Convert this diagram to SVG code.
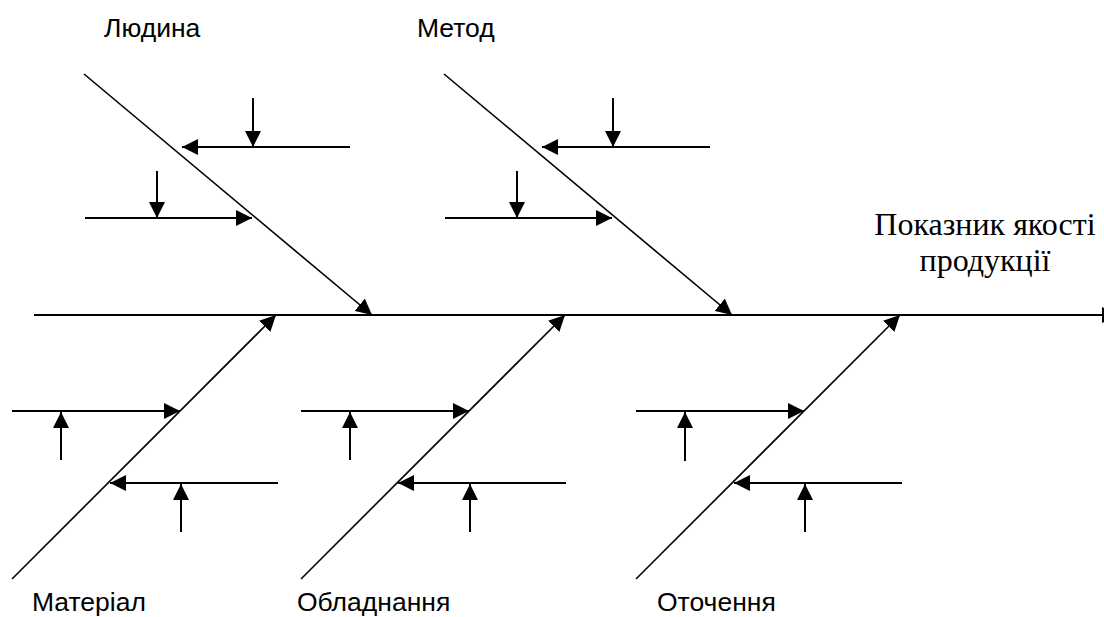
<svg xmlns="http://www.w3.org/2000/svg" width="1104" height="617" viewBox="0 0 1104 617">
  <style>
    .ln { stroke: #000; stroke-width: 2; fill: none; }
    .dg { stroke: #000; stroke-width: 1.6; fill: none; }
    .lbl { font-family: "Liberation Sans", Arial, sans-serif; font-size: 26.5px; fill: #000; }
    .ttl { font-family: "Liberation Serif", "Times New Roman", serif; font-size: 32px; fill: #000; text-anchor: middle; }
  </style>
  <defs>
    <marker id="ah" viewBox="0 0 16 16" refX="16" refY="8" markerWidth="16" markerHeight="16" markerUnits="userSpaceOnUse" orient="auto">
      <path d="M0,0 L16,8 L0,16 z" fill="#000"/>
    </marker>
  </defs>
  <rect width="1104" height="617" fill="#fff"/>

  <g id="connectors">
    <!-- spine -->
    <line class="ln" x1="34" y1="315" x2="1118" y2="315" marker-end="url(#ah)"/>
    <!-- top diagonals -->
    <line class="dg" x1="84" y1="74" x2="372" y2="315" marker-end="url(#ah)"/>
    <line class="dg" x1="444" y1="74" x2="732" y2="315" marker-end="url(#ah)"/>
    <!-- Людина sub-causes -->
    <line class="ln" x1="350" y1="147" x2="182" y2="147" marker-end="url(#ah)"/>
    <line class="ln" x1="253" y1="98" x2="253" y2="147" marker-end="url(#ah)"/>
    <line class="ln" x1="85" y1="218" x2="252" y2="218" marker-end="url(#ah)"/>
    <line class="ln" x1="157" y1="171" x2="157" y2="218" marker-end="url(#ah)"/>
    <!-- Метод sub-causes -->
    <line class="ln" x1="710" y1="147" x2="542" y2="147" marker-end="url(#ah)"/>
    <line class="ln" x1="613" y1="98" x2="613" y2="147" marker-end="url(#ah)"/>
    <line class="ln" x1="445" y1="218" x2="612" y2="218" marker-end="url(#ah)"/>
    <line class="ln" x1="517" y1="171" x2="517" y2="218" marker-end="url(#ah)"/>
    <!-- bottom diagonals -->
    <line class="dg" x1="12" y1="579" x2="276" y2="315" marker-end="url(#ah)"/>
    <line class="dg" x1="301" y1="579" x2="565" y2="315" marker-end="url(#ah)"/>
    <line class="dg" x1="636" y1="579" x2="900" y2="315" marker-end="url(#ah)"/>
    <!-- Матеріал sub-causes -->
    <line class="ln" x1="12" y1="411" x2="180" y2="411" marker-end="url(#ah)"/>
    <line class="ln" x1="61" y1="460" x2="61" y2="412" marker-end="url(#ah)"/>
    <line class="ln" x1="278" y1="483" x2="110" y2="483" marker-end="url(#ah)"/>
    <line class="ln" x1="181" y1="532" x2="181" y2="484" marker-end="url(#ah)"/>
    <!-- Обладнання sub-causes -->
    <line class="ln" x1="301" y1="411" x2="469" y2="411" marker-end="url(#ah)"/>
    <line class="ln" x1="350" y1="460" x2="350" y2="412" marker-end="url(#ah)"/>
    <line class="ln" x1="566" y1="483" x2="398" y2="483" marker-end="url(#ah)"/>
    <line class="ln" x1="470" y1="532" x2="470" y2="484" marker-end="url(#ah)"/>
    <!-- Оточення sub-causes -->
    <line class="ln" x1="636" y1="411" x2="804" y2="411" marker-end="url(#ah)"/>
    <line class="ln" x1="685" y1="461" x2="685" y2="412" marker-end="url(#ah)"/>
    <line class="ln" x1="902" y1="483" x2="734" y2="483" marker-end="url(#ah)"/>
    <line class="ln" x1="805" y1="532" x2="805" y2="484" marker-end="url(#ah)"/>
  </g>

  <g id="node-lyudyna"><text class="lbl" x="104" y="37">Людина</text></g>
  <g id="node-metod"><text class="lbl" x="417" y="37">Метод</text></g>
  <g id="node-material"><text class="lbl" x="32" y="611">Матеріал</text></g>
  <g id="node-obladnannya"><text class="lbl" x="297" y="611">Обладнання</text></g>
  <g id="node-otochennya"><text class="lbl" x="657" y="611">Оточення</text></g>
  <g id="node-result">
    <text class="ttl" x="985" y="235">Показник якості</text>
    <text class="ttl" x="985" y="271">продукції</text>
  </g>
</svg>
